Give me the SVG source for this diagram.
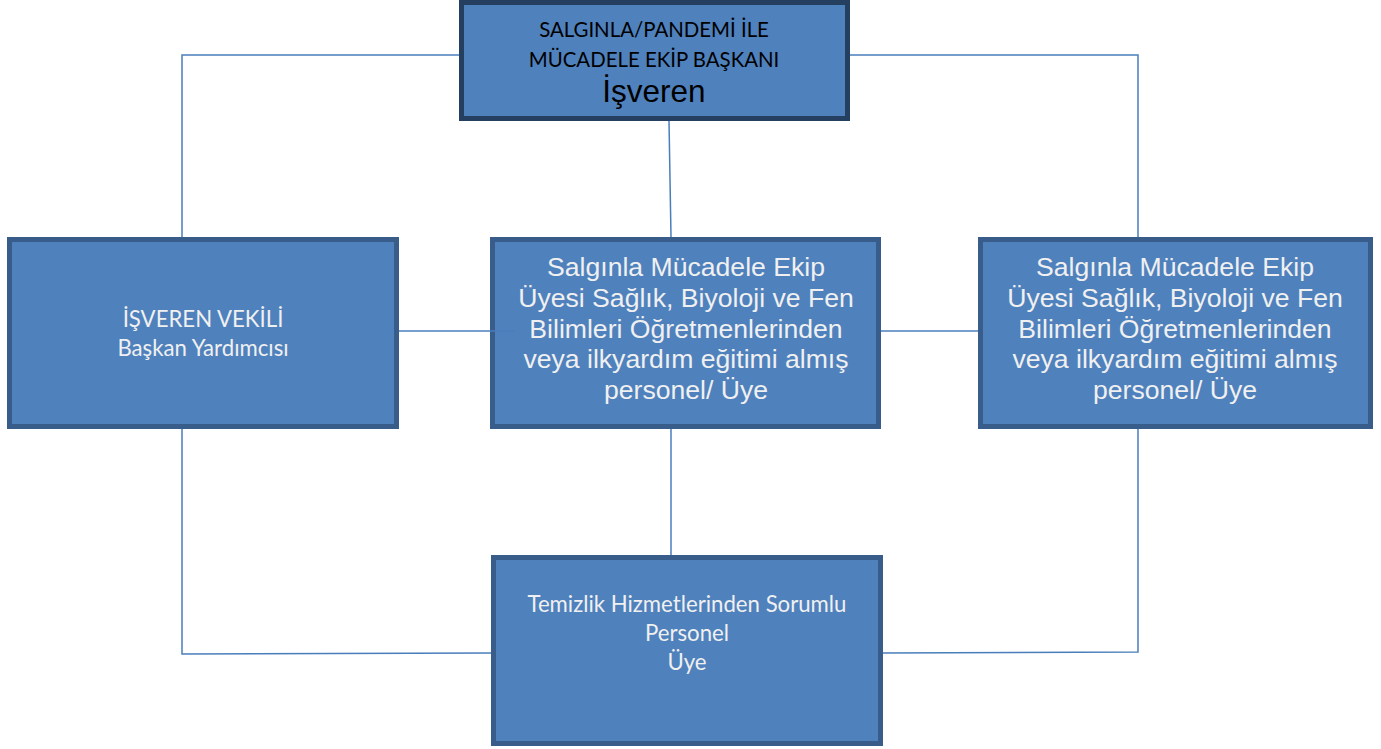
<svg xmlns="http://www.w3.org/2000/svg" width="1381" height="749" viewBox="0 0 1381 749">
<style>
.box{fill:#4F81BD;stroke:#385D8A;stroke-width:5}
.top{fill:#4F81BD;stroke:#243F60;stroke-width:5}
.con{fill:none;stroke:#4A7EBB;stroke-width:1.5}
.cal{font-family:Lato,"Open Sans",sans-serif;font-size:22.2px;text-anchor:middle}
.ttl{font-family:Lato,"Open Sans",sans-serif;font-size:20.4px;text-anchor:middle;fill:#000}
.ari{font-family:"Liberation Sans",Arial,sans-serif;font-size:26.6px;text-anchor:middle;fill:#F0F0F0}
</style>
<rect width="1381" height="749" fill="#fff"/>
<g id="node-top">
<rect class="top" x="461.5" y="2.5" width="386" height="116"/>
<text class="ttl" x="654" y="37">SALGINLA/PANDEMİ İLE</text>
<text class="ttl" x="654" y="67">MÜCADELE EKİP BAŞKANI</text>
<text x="654" y="102" fill="#000" style="font-family:'Liberation Sans',Arial,sans-serif;font-size:31.5px;text-anchor:middle">İşveren</text>
</g>
<g id="node-left">
<rect class="box" x="9.5" y="239.5" width="387" height="187"/>
<text class="cal" x="203" y="327" fill="#F0F0F0">İŞVEREN VEKİLİ</text>
<text class="cal" x="203" y="356" fill="#F0F0F0">Başkan Yardımcısı</text>
</g>
<g id="node-mid">
<rect class="box" x="492.5" y="239.5" width="386" height="187"/>
<text class="ari" x="686" y="276">Salgınla Mücadele Ekip</text>
<text class="ari" x="686" y="307">Üyesi Sağlık, Biyoloji ve Fen</text>
<text class="ari" x="686" y="338">Bilimleri Öğretmenlerinden</text>
<text class="ari" x="686" y="368">veya ilkyardım eğitimi almış</text>
<text class="ari" x="686" y="399">personel/ Üye</text>
</g>
<g id="node-right">
<rect class="box" x="980.5" y="239.5" width="390" height="187"/>
<text class="ari" x="1175" y="276">Salgınla Mücadele Ekip</text>
<text class="ari" x="1175" y="307">Üyesi Sağlık, Biyoloji ve Fen</text>
<text class="ari" x="1175" y="338">Bilimleri Öğretmenlerinden</text>
<text class="ari" x="1175" y="368">veya ilkyardım eğitimi almış</text>
<text class="ari" x="1175" y="399">personel/ Üye</text>
</g>
<g id="node-bottom">
<rect class="box" x="493.5" y="557.5" width="387" height="186"/>
<text class="cal" x="687" y="612" fill="#F0F0F0">Temizlik Hizmetlerinden Sorumlu</text>
<text class="cal" x="687" y="641" fill="#F0F0F0">Personel</text>
<text class="cal" x="687" y="670" fill="#F0F0F0">Üye</text>
</g>
<g id="connectors">
<polyline class="con" points="459,55 182,55 182,237"/>
<polyline class="con" points="850,55 1138,55 1138,237"/>
<line class="con" x1="669" y1="121" x2="671" y2="237"/>
<line class="con" x1="399" y1="331" x2="515" y2="331"/>
<line class="con" x1="881" y1="331" x2="978" y2="331"/>
<line class="con" x1="671" y1="429" x2="671" y2="555"/>
<polyline class="con" points="182,429 182,654 491,653"/>
<polyline class="con" points="1138,429 1138,652 883,653"/>
</g>
</svg>
